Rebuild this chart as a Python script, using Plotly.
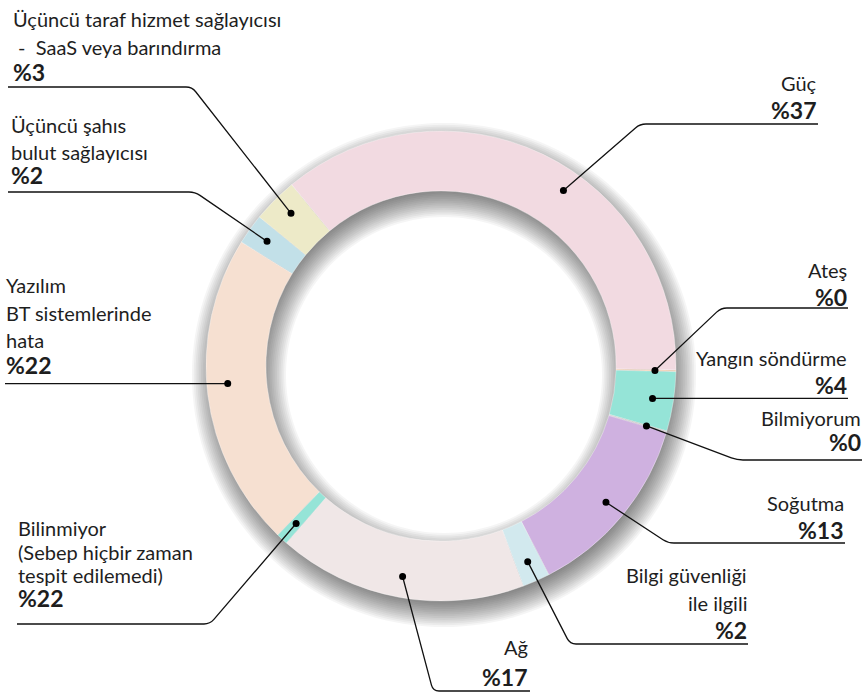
import math
import plotly.graph_objects as go

W, H = 867, 693

# ---------------- data ----------------
categories = ["Güç", "Ateş", "Yangın söndürme", "Bilmiyorum", "Soğutma",
              "Bilgi güvenliği ile ilgili", "Ağ",
              "Bilinmiyor (Sebep hiçbir zaman tespit edilemedi)",
              "Yazılım BT sistemlerinde hata",
              "Üçüncü şahıs bulut sağlayıcısı",
              "Üçüncü taraf hizmet sağlayıcısı - SaaS veya barındırma"]
values = [36.4, 0.1, 4.1, 0.1, 12.9, 1.9, 17.2, 0.8, 21.7, 2.1, 3.1]
pct_labels = ["%37", "%0", "%4", "%0", "%13", "%2", "%17", "%22", "%22", "%2", "%3"]
label_lines = [["Güç"], ["Ateş"], ["Yangın söndürme"], ["Bilmiyorum"], ["Soğutma"],
               ["Bilgi güvenliği", "ile ilgili"], ["Ağ"],
               ["Bilinmiyor", "(Sebep hiçbir zaman", "tespit edilemedi)"],
               ["Yazılım", "BT sistemlerinde", "hata"],
               ["Üçüncü şahıs", "bulut sağlayıcısı"],
               ["Üçüncü taraf hizmet sağlayıcısı", " -  SaaS veya barındırma"]]
colors = ["#F2DAE1", "#F0C8A8", "#95E4D7", "#C8C8C8", "#CFB1E0", "#D2E9EE",
          "#F0E7E7", "#95E4D7", "#F6E0D1", "#C2E0E8", "#EDEAC8"]

# ---------------- geometry / styles ----------------
CX, CY, R = 441, 366, 235
HOLE = 0.745
ROTATION = -39.5
FONT = "Lato"
TXT = "#1e1e1e"
FS, FSB = 20, 23

# label layout (pixels): side, text x, y of text lines, y of percent, y of underline,
# x of elbow (None = straight from dot), far x of underline, fraction along slice for dot
label_layout = [
    dict(side="right", x=818, ys=[83], py=110, ly=124, ex=640, fx=818, f=0.57),
    dict(side="right", x=848, ys=[270], py=297, ly=308, ex=721, fx=848, f=0.5),
    dict(side="right", x=848, ys=[358], py=385, ly=None, ex=None, fx=848, f=0.5),
    dict(side="right", x=862, ys=[418], py=442, ly=460, ex=737, fx=862, f=0.5),
    dict(side="right", x=845, ys=[503], py=530, ly=543, ex=668, fx=845, f=0.5),
    dict(side="right", x=748, ys=[575, 603], py=630, ly=644, ex=570, fx=748, f=0.5),
    dict(side="right", x=529, ys=[647], py=677, ly=691, ex=433, fx=530, f=0.5),
    dict(side="left", x=17, ys=[528, 552, 575], py=598, ly=624, ex=210, fx=17, f=0.5),
    dict(side="left", x=5, ys=[285, 313, 340], py=365, ly=None, ex=None, fx=5, f=0.53),
    dict(side="left", x=10, ys=[125, 152], py=175, ly=192, ex=195, fx=8, f=0.5),
    dict(side="left", x=12, ys=[19, 47], py=72, ly=87, ex=192, fx=8, f=0.55),
]


def px(x):
    return x / W


def py(y):
    return 1 - y / H


fig = go.Figure()

# ---------------- soft shadow (below pie) ----------------
shapes = []
OX, OY, B, K, A = 3, 9, 18, 20, 0.04
NPT = 160


def ring_path(cx, cy, ro, ri):
    pts_o = []
    pts_i = []
    for k in range(NPT):
        a = 2 * math.pi * k / NPT
        pts_o.append((cx + ro * math.cos(a), cy + ro * math.sin(a)))
        pts_i.append((cx + ri * math.cos(-a), cy + ri * math.sin(-a)))
    s = "M " + " L ".join(f"{px(x):.5f},{py(y):.5f}" for x, y in pts_o) + " Z"
    if ri > 0:
        s += " M " + " L ".join(f"{px(x):.5f},{py(y):.5f}" for x, y in pts_i) + " Z"
    return s


r_in = R * HOLE
for j in range(K):
    t = -B + 2 * B * (j + 0.5) / K
    ro, ri = R + t, r_in - t
    if ri >= ro:
        continue
    shapes.append(dict(type="path", xref="paper", yref="paper", layer="below",
                       path=ring_path(CX + OX, CY + OY, ro, max(ri, 0)),
                       fillcolor=f"rgba(0,0,0,{A})", line=dict(width=0)))

# ---------------- donut ----------------
fig.add_trace(go.Pie(
    labels=categories, values=values, sort=False, direction="clockwise",
    rotation=ROTATION, hole=HOLE, textinfo="none", hoverinfo="label+percent",
    marker=dict(colors=colors, line=dict(color="rgba(255,255,255,0.6)", width=0.6)),
    domain=dict(x=[px(CX - R), px(CX + R)], y=[py(CY + R), py(CY - R)]),
    showlegend=False,
))

# ---------------- leader lines, dots and labels ----------------
total = sum(values)
cum = 0.0
annotations = []
R_DOT = 214
for i, v in enumerate(values):
    lay = label_layout[i]
    a0 = ROTATION + 360 * cum / total
    ang = math.radians(a0 + lay["f"] * 360 * v / total)
    cum += v
    dx = CX + R_DOT * math.sin(ang)
    dy = CY - R_DOT * math.cos(ang)

    # leader line
    if lay["ex"] is None:
        ly = dy
        path = f"M {px(dx):.5f},{py(ly):.5f} L {px(lay['fx']):.5f},{py(ly):.5f}"
    else:
        ex, ly = lay["ex"], lay["ly"]
        c = 6
        L1 = math.hypot(dx - ex, dy - ly)
        p1 = (ex + (dx - ex) * c / L1, ly + (dy - ly) * c / L1)
        sgn = 1 if lay["fx"] > ex else -1
        p2 = (ex + sgn * c, ly)
        path = (f"M {px(dx):.5f},{py(dy):.5f} L {px(p1[0]):.5f},{py(p1[1]):.5f} "
                f"Q {px(ex):.5f},{py(ly):.5f} {px(p2[0]):.5f},{py(p2[1]):.5f} "
                f"L {px(lay['fx']):.5f},{py(ly):.5f}")
    shapes.append(dict(type="path", xref="paper", yref="paper", layer="above",
                       path=path, line=dict(color="#111111", width=1.3)))
    rd = 3.5
    shapes.append(dict(type="circle", xref="paper", yref="paper", layer="above",
                       x0=px(dx - rd), x1=px(dx + rd), y0=py(dy + rd), y1=py(dy - rd),
                       fillcolor="#000000", line=dict(width=0)))

    xanchor = "right" if lay["side"] == "right" else "left"
    for line_text, yy in zip(label_lines[i], lay["ys"]):
        annotations.append(dict(xref="paper", yref="paper", x=px(lay["x"]), y=py(yy),
                                text=line_text, showarrow=False, xanchor=xanchor,
                                yanchor="middle", borderpad=0,
                                font=dict(family=FONT, size=FS, color=TXT)))
    annotations.append(dict(xref="paper", yref="paper", x=px(lay["x"]), y=py(lay["py"]),
                            text=f"<b>{pct_labels[i]}</b>", showarrow=False,
                            xanchor=xanchor, yanchor="middle", borderpad=0,
                            font=dict(family=FONT, size=FSB, color=TXT)))

fig.update_layout(
    width=W, height=H, margin=dict(l=0, r=0, t=0, b=0),
    paper_bgcolor="white", plot_bgcolor="white",
    shapes=shapes, annotations=annotations, showlegend=False,
)

fig.write_html("out.html", config={"displayModeBar": False},
               post_script="document.body.style.margin='0';document.body.style.padding='0';")
